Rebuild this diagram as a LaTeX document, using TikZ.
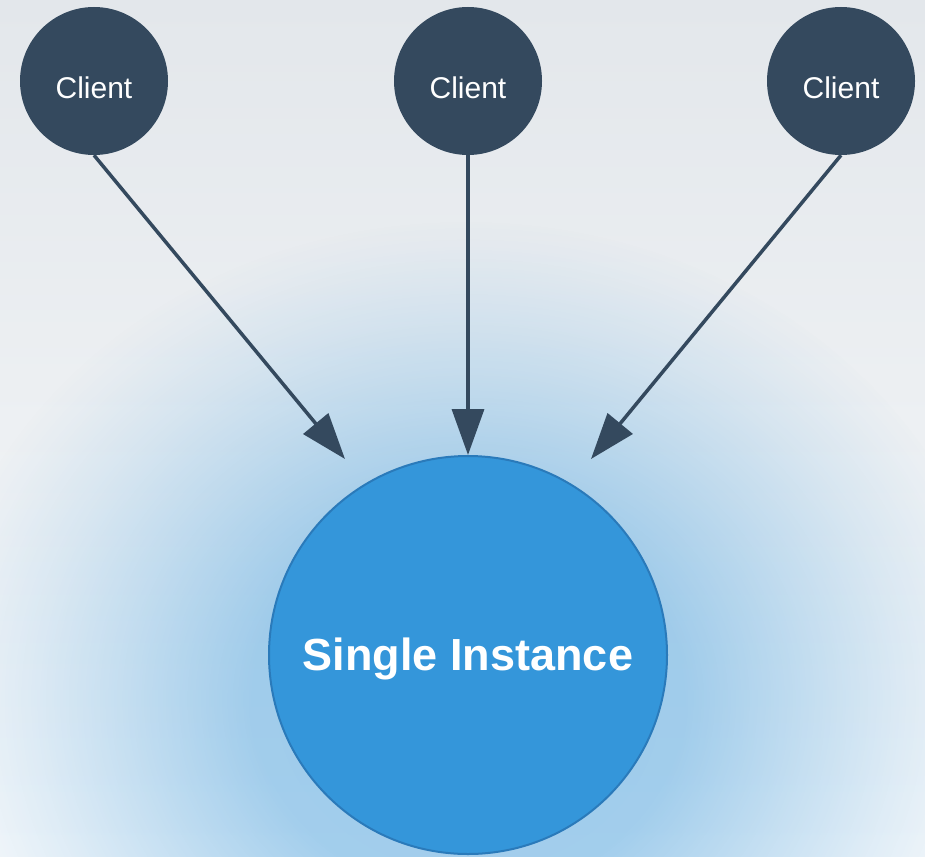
\documentclass[tikz,border=0pt]{standalone}
\usepackage{fontspec}
\setmainfont{Liberation Sans}
\usetikzlibrary{arrows.meta,fadings}
\definecolor{clientfill}{RGB}{52,73,94}
\definecolor{instfill}{RGB}{52,150,218}
\definecolor{instedge}{RGB}{42,122,186}
\definecolor{glowblue}{RGB}{52,150,218}
\definecolor{bgtop}{RGB}{227,231,235}
\definecolor{bgmid}{RGB}{241,243,246}
\definecolor{bgbot}{RGB}{247,249,251}

% radial opacity profile of the halo (white = opaque, black = clear);
% the path's bounding box maps onto the central 50bp square
\pgfdeclareradialshading{haloshade}{\pgfpoint{0bp}{0bp}}{%
  color(0bp)=(white!46!black);
  color(10bp)=(white!43!black);
  color(12.5bp)=(white!35!black);
  color(16bp)=(white!24!black);
  color(20bp)=(white!12!black);
  color(23.5bp)=(white!3!black);
  color(25bp)=(black);
  color(50bp)=(black)}
\pgfdeclarefading{halo}{\pgfuseshading{haloshade}}

\begin{document}
\begin{tikzpicture}[x=1pt,y=-1pt,
  client/.style={circle, fill=clientfill, inner sep=0pt, minimum size=148pt,
    text=white, font=\fontsize{30}{30}\selectfont, text height=36pt, text depth=0pt},
  instance/.style={circle, fill=instfill, draw=instedge, line width=2pt, inner sep=0pt,
    minimum size=398pt, text=white, font=\bfseries\fontsize{45}{45}\selectfont,
    text height=33pt, text depth=3pt},
  link/.style={draw=clientfill, line width=3.5pt, -{Triangle[length=46pt,width=32pt]}}]

% canvas and soft vertical background
\path[use as bounding box] (0,0) rectangle (925,856);
\shade[top color=bgtop, middle color=bgmid, bottom color=bgbot] (0,0) rectangle (925,856);

% blue halo around the instance
\begin{scope}
  \clip (0,0) rectangle (925,856);
  \fill[glowblue, path fading=halo, fit fading=true]
    (468,700) ellipse[x radius=540pt, y radius=480pt];
\end{scope}

% clients
\node[client] (c1) at (94,81) {Client};
\node[client] (c2) at (468,81) {Client};
\node[client] (c3) at (841,81) {Client};

% the single instance
\node[instance] (si) at (468,655) {Single Instance};

% arrow tips for the slanted connectors
\coordinate (t1) at (345,459);
\coordinate (t3) at (591,459);

\draw[link] (c1.south) -- (t1);
\draw[link] (c2.south) -- (si.north);
\draw[link] (c3.south) -- (t3);
\end{tikzpicture}
\end{document}
